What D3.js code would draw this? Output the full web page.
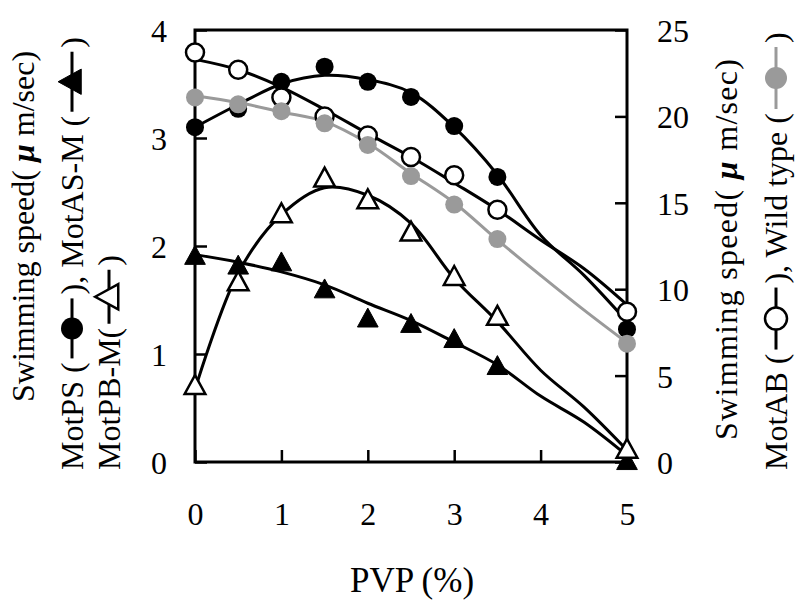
<!DOCTYPE html>
<html>
<head>
<meta charset="utf-8">
<script src="https://cdn.jsdelivr.net/npm/d3@7"></script>
<style>
  body { margin: 0; background: #fff; }
  text { font-family: "Liberation Serif", "Times New Roman", serif; fill: #000; }
</style>
</head>
<body>
<svg id="chart" width="800" height="607"></svg>
<script>
// measured points
const pvp = [0, 0.5, 1, 1.5, 2, 2.5, 3, 3.5, 5];
const motPS = [3.10, 3.27, 3.52, 3.66, 3.52, 3.38, 3.11, 2.64, 1.23];
const motASM = [1.90, 1.81, 1.84, 1.59, 1.32, 1.27, 1.13, 0.88, 0.0];
const motPBM = [0.70, 1.66, 2.29, 2.62, 2.42, 2.12, 1.71, 1.34, 0.11];
const motAB = [23.7, 22.7, 21.1, 20.0, 18.9, 17.65, 16.6, 14.6, 8.7];
const wildType = [21.1, 20.7, 20.3, 19.6, 18.35, 16.55, 14.9, 12.9, 6.85];

// trend curves
const fitX = [0, 0.5, 1, 1.5, 2, 2.5, 3, 3.5, 4, 4.5, 5];
const motPSFit = [3.10, 3.31, 3.50, 3.58, 3.54, 3.42, 3.10, 2.66, 2.10, 1.73, 1.30];
const motASMFit = [1.92, 1.85, 1.76, 1.64, 1.47, 1.31, 1.11, 0.90, 0.61, 0.37, 0.06];
const motPBMFit = [0.67, 1.75, 2.29, 2.54, 2.47, 2.21, 1.70, 1.30, 0.85, 0.51, 0.11];
const motABFit = [23.3, 22.7, 21.7, 20.4, 19.0, 17.65, 16.15, 14.6, 12.85, 11.2, 9.1];
const wildFit = [21.2, 20.8, 20.25, 19.7, 18.45, 16.7, 15.0, 12.85, 10.8, 8.8, 6.9];

const xTicks = [0, 1, 2, 3, 4, 5];
const leftTicks = [0, 1, 2, 3, 4];
const rightTicks = [0, 5, 10, 15, 20, 25];

const svg = d3.select('#chart');

const x = d3.scaleLinear().domain([0, 5]).range([195, 627]);
const yL = d3.scaleLinear().domain([0, 4]).range([462, 30]);
const yR = d3.scaleLinear().domain([0, 25]).range([462, 30]);

const GRAY = '#9a9a9a';
const SERIF = '"Liberation Serif", "Times New Roman", serif';

// axes (ticks inward)
const axisStyle = g => {
  g.attr('font-family', SERIF).attr('font-size', 32);
  g.select('.domain').remove();
  g.selectAll('line').attr('stroke', '#000').attr('stroke-width', 2.5);
  g.selectAll('text')
    .style('font-family', SERIF)
    .style('font-size', '32px')
    .attr('fill', '#000');
};

svg.append('g')
  .attr('transform', 'translate(0,462)')
  .call(d3.axisBottom(x).tickValues(xTicks).tickSize(-12).tickPadding(40).tickFormat(d3.format('d')))
  .call(axisStyle);

svg.append('g')
  .attr('transform', 'translate(195,0)')
  .call(d3.axisLeft(yL).tickValues(leftTicks).tickSize(-12).tickPadding(28).tickFormat(d3.format('d')))
  .call(axisStyle)
  .selectAll('text').attr('dy', '0.36em');

svg.append('g')
  .attr('transform', 'translate(627,0)')
  .call(d3.axisRight(yR).tickValues(rightTicks).tickSize(-12).tickPadding(30).tickFormat(d3.format('d')))
  .call(axisStyle)
  .selectAll('text').attr('dy', '0.36em');

// frame
svg.append('rect')
  .attr('x', x(0)).attr('y', yL(4))
  .attr('width', x(5) - x(0)).attr('height', yL(0) - yL(4))
  .attr('fill', 'none').attr('stroke', '#000').attr('stroke-width', 3);

// trend lines
const curve = d3.curveCatmullRom.alpha(0.5);
const lineL = d3.line().x((d, i) => x(fitX[i])).y(d => yL(d)).curve(curve);
const lineR = d3.line().x((d, i) => x(fitX[i])).y(d => yR(d)).curve(curve);

[[motPSFit, lineL, '#000'], [motASMFit, lineL, '#000'], [motPBMFit, lineL, '#000'],
 [motABFit, lineR, '#000'], [wildFit, lineR, GRAY]].forEach(([vals, gen, color]) => {
  svg.append('path')
    .attr('d', gen(vals))
    .attr('fill', 'none')
    .attr('stroke', color)
    .attr('stroke-width', 3);
});

// markers
const triPath = (w, h) => `M0,${-h * 0.6}L${w / 2},${h * 0.4}L${-w / 2},${h * 0.4}Z`;

function drawMarker(sel, kind, r) {
  if (kind === 'tri' || kind === 'otri') {
    sel.append('path')
      .attr('d', triPath(r * 2.3, r * 2.1))
      .attr('fill', kind === 'tri' ? '#000' : '#fff')
      .attr('stroke', '#000')
      .attr('stroke-width', kind === 'tri' ? 1 : 2.5);
  } else {
    sel.append('circle')
      .attr('r', r)
      .attr('fill', kind === 'dot' ? '#000' : kind === 'ocircle' ? '#fff' : GRAY)
      .attr('stroke', kind === 'ocircle' ? '#000' : 'none')
      .attr('stroke-width', 2.5);
  }
}

function drawSeries(vals, scale, kind) {
  svg.append('g').selectAll('g')
    .data(vals)
    .join('g')
    .attr('transform', (d, i) => `translate(${x(pvp[i])},${scale(d)})`)
    .each(function () { drawMarker(d3.select(this), kind, 9); });
}

drawSeries(motPS, yL, 'dot');
drawSeries(motAB, yR, 'ocircle');
drawSeries(wildType, yR, 'gcircle');
drawSeries(motASM, yL, 'tri');
drawSeries(motPBM, yL, 'otri');

// x title
svg.append('text')
  .attr('x', 412).attr('y', 592)
  .attr('text-anchor', 'middle')
  .style('font-size', '35px')
  .text('PVP (%)');

// rotated title lines built from text pieces and legend symbols
function titleLine(bx, by, parts, spacing) {
  const g = svg.append('g').attr('transform', `translate(${bx},${by}) rotate(-90)`);
  let cx = 0;
  parts.forEach(p => {
    if (typeof p === 'string' || p.mu) {
      const t = g.append('text').attr('x', cx).attr('y', 0)
        .style('font-size', '32px')
        .style('letter-spacing', (spacing || 0) + 'px');
      if (p.mu) {
        t.style('font-weight', 'bold').style('font-style', 'italic').text('\u03bc');
      } else {
        t.attr('xml:space', 'preserve').style('white-space', 'pre').text(p);
      }
      cx += t.node().getComputedTextLength();
    } else {
      const len = p.len;
      const color = p.sym === 'gcircle' ? GRAY : '#000';
      g.append('line')
        .attr('x1', cx + 4).attr('x2', cx + len - 4)
        .attr('y1', -11).attr('y2', -11)
        .attr('stroke', color).attr('stroke-width', 3);
      const m = g.append('g').attr('transform', `translate(${cx + len / 2},-11)`);
      drawMarker(m, p.sym, 11);
      cx += len;
    }
  });
}

titleLine(34, 402, ['Swimming speed( ', {mu: true}, ' m/sec)']);
titleLine(83, 470, ['MotPS (', {sym: 'dot', len: 68}, '), MotAS-M (', {sym: 'tri', len: 68}, ')']);
titleLine(120, 470, ['MotPB-M(', {sym: 'otri', len: 62}, ')']);
titleLine(737, 440, ['Swimming speed( ', {mu: true}, ' m/sec)'], 1.3);
titleLine(787, 470, ['MotAB (', {sym: 'ocircle', len: 70}, '), Wild type (', {sym: 'gcircle', len: 70}, ')']);
</script>
</body>
</html>
